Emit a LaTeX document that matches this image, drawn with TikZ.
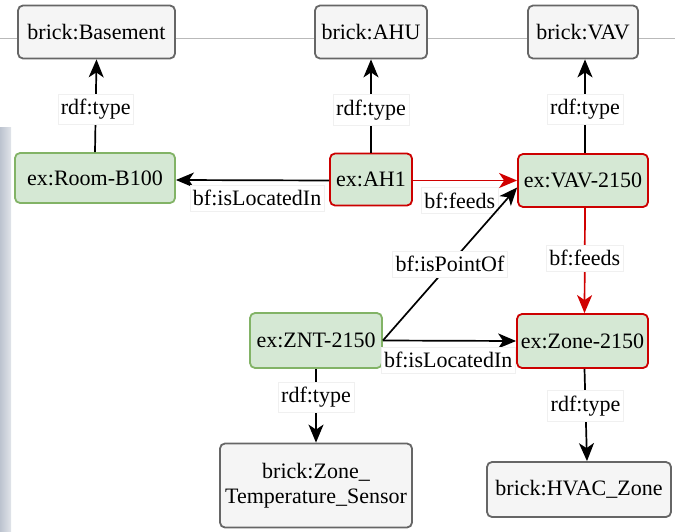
\documentclass[tikz,border=0pt]{standalone}
\usepackage{fontspec}
\setmainfont{Liberation Serif}
\usetikzlibrary{arrows.meta,calc}

\definecolor{classfill}{HTML}{F5F5F5}
\definecolor{classdraw}{HTML}{666666}
\definecolor{instfill}{HTML}{D5E8D4}
\definecolor{instdraw}{HTML}{82B366}
\definecolor{hotdraw}{HTML}{CC0000}
\definecolor{feedred}{HTML}{D00000}
\definecolor{stripgray}{HTML}{BCC3CF}

\tikzset{
  base/.style={rounded corners=5pt, line width=1.8pt, inner sep=0pt, align=center,
               font=\rmfamily\fontsize{22}{25}\selectfont},
  classbox/.style={base, fill=classfill, draw=classdraw},
  instbox/.style={base, fill=instfill, draw=instdraw},
  hotbox/.style={base, fill=instfill, draw=hotdraw},
  link/.style={line width=1.7pt, -{Stealth[length=18pt,width=15pt,inset=5pt]}},
  feedlink/.style={link, draw=feedred, -{Stealth[length=18pt,width=15pt,inset=5pt,fill=feedred]}},
  lbl/.style={fill=white, draw=gray!12, line width=0.4pt, inner xsep=3pt, inner ysep=5pt,
              font=\rmfamily\fontsize{22}{25}\selectfont, text=black}
}

\begin{document}
\begin{tikzpicture}[x=1pt, y=-1pt]
  \useasboundingbox (0,0) rectangle (675,532);

  % background rule and left-edge strip
  \draw[gray!55, line width=0.8pt] (0,38) -- (675,38);
  \shade[left color=stripgray, right color=stripgray!45] (0,128) rectangle (11,532);

  % class nodes
  \node[classbox, minimum width=157pt, minimum height=53pt] (basement) at (96.5,32) {brick:Basement};
  \node[classbox, minimum width=112pt, minimum height=53pt] (ahu) at (371,32) {brick:AHU};
  \node[classbox, minimum width=110pt, minimum height=53pt] (vav) at (583,32) {brick:VAV};
  \node[classbox, minimum width=192pt, minimum height=84pt] (sensor) at (316,485.5) {brick:Zone\_\\Temperature\_Sensor};
  \node[classbox, minimum width=184pt, minimum height=55pt] (hvac) at (579,489.5) {brick:HVAC\_Zone};

  % instance nodes
  \node[instbox, minimum width=160pt, minimum height=50pt] (room) at (95,178) {ex:Room-B100};
  \node[hotbox, minimum width=82pt, minimum height=52pt] (ah1) at (371,179.5) {ex:AH1};
  \node[hotbox, minimum width=130pt, minimum height=53pt] (vav2150) at (583,180.5) {ex:VAV-2150};
  \node[instbox, minimum width=132pt, minimum height=55pt] (znt) at (316,340.5) {ex:ZNT-2150};
  \node[hotbox, minimum width=131pt, minimum height=54pt] (zone) at (582.5,341) {ex:Zone-2150};

  % type links
  \draw[link] (room.north) -- node[lbl, pos=0.46] {rdf:type} (basement.south);
  \draw[link] (ah1.north) -- node[lbl, pos=0.46] {rdf:type} (ahu.south);
  \draw[link] ($(vav2150.north)+(2,0)$) -- node[lbl, pos=0.47] {rdf:type} ($(vav.south)+(2,0)$);
  \draw[link] (znt.south) -- node[lbl, pos=0.38] {rdf:type} (sensor.north);
  \draw[link] ($(zone.south)+(2,0)$) -- node[lbl, pos=0.4] {rdf:type} ($(hvac.north)+(8,0)$);

  % relations
  \draw[link] ($(ah1.west)+(0,1)$) -- node[lbl, pos=0.47, below=5pt] {bf:isLocatedIn} ($(room.east)+(0,2)$);
  \draw[feedlink] ($(ah1.east)+(0,1)$) -- node[lbl, pos=0.45, below=7pt] {bf:feeds} ($(vav2150.west)+(0,0)$);
  \draw[feedlink] ($(vav2150.south)+(2,0)$) -- node[lbl, pos=0.48] {bf:feeds} ($(zone.north)+(2,0)$);
  \draw[link] (znt.east) -- node[lbl, pos=0.49, below=6pt] {bf:isLocatedIn} (zone.west);
  \draw[link] (znt.east) -- node[lbl, pos=0.5] {bf:isPointOf} ($(vav2150.west)+(0,7)$);
\end{tikzpicture}
\end{document}
